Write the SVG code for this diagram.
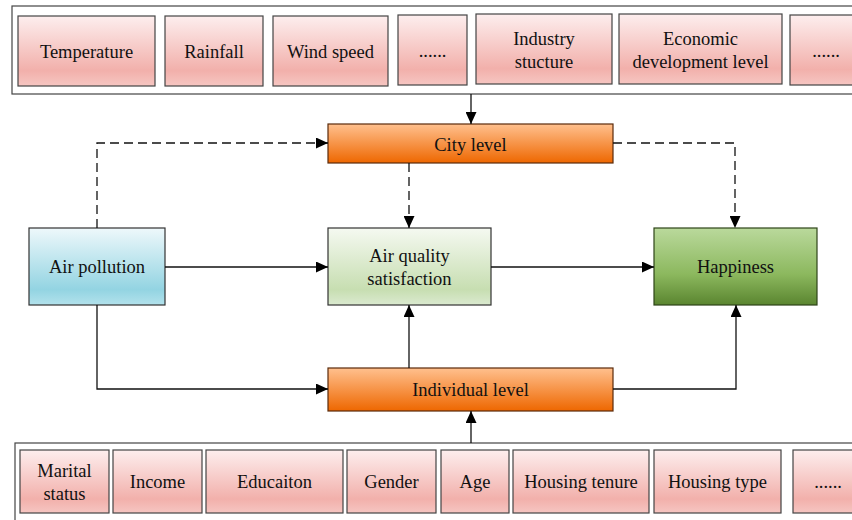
<svg xmlns="http://www.w3.org/2000/svg" width="852" height="520" viewBox="0 0 852 520">
<defs>
<linearGradient id="gPink" x1="0" y1="0" x2="0" y2="1">
<stop offset="0" stop-color="#fdeeee"/><stop offset="0.78" stop-color="#f2b0ab"/><stop offset="1" stop-color="#f6c6c2"/>
</linearGradient>
<linearGradient id="gOrange" x1="0" y1="0" x2="0" y2="1">
<stop offset="0" stop-color="#ffc08e"/><stop offset="1" stop-color="#ee6700"/>
</linearGradient>
<linearGradient id="gBlue" x1="0" y1="0" x2="0" y2="1">
<stop offset="0" stop-color="#eef8fb"/><stop offset="0.8" stop-color="#93d4e2"/><stop offset="1" stop-color="#b3e2ec"/>
</linearGradient>
<linearGradient id="gLGreen" x1="0" y1="0" x2="0" y2="1">
<stop offset="0" stop-color="#f5f9f1"/><stop offset="0.8" stop-color="#c7deb1"/><stop offset="1" stop-color="#dbead0"/>
</linearGradient>
<linearGradient id="gDGreen" x1="0" y1="0" x2="0" y2="1">
<stop offset="0" stop-color="#bad99c"/><stop offset="0.6" stop-color="#8cb85e"/><stop offset="1" stop-color="#5a8530"/>
</linearGradient>
<marker id="ah" markerUnits="userSpaceOnUse" markerWidth="13" markerHeight="11" refX="12" refY="5.5" orient="auto">
<path d="M0,0 L12,5.5 L0,11 z" fill="#000"/>
</marker>
<style>
.frame{fill:#fff;stroke:#444;stroke-width:1.2}
.pink{fill:url(#gPink);stroke:#444;stroke-width:1.2}
.orange{fill:url(#gOrange);stroke:#5a2a0a;stroke-width:1.2}
.blue{fill:url(#gBlue);stroke:#333;stroke-width:1.2}
.lgreen{fill:url(#gLGreen);stroke:#333;stroke-width:1.2}
.dgreen{fill:url(#gDGreen);stroke:#2e4418;stroke-width:1.2}
text{font-size:18.5px;fill:#111;text-anchor:middle}
.ln{fill:none;stroke:#111;stroke-width:1.3}
.dash{stroke-dasharray:9 5}
</style>
</defs>
<g font-family="Liberation Serif, DejaVu Serif, serif">
<g id="city-factors">
<rect class="frame" x="12" y="6" width="850" height="88"/>
<g id="temperature"><rect class="pink" x="18" y="16" width="137" height="70"/><text x="86.5" y="58">Temperature</text></g>
<g id="rainfall"><rect class="pink" x="165" y="16" width="98" height="70"/><text x="214" y="58">Rainfall</text></g>
<g id="windspeed"><rect class="pink" x="273" y="16" width="115" height="70"/><text x="330.5" y="58">Wind speed</text></g>
<g id="dots1"><rect class="pink" x="398" y="15" width="69" height="70"/><text x="432.5" y="57">......</text></g>
<g id="industry"><rect class="pink" x="476" y="14" width="136" height="70"/><text x="544" y="45">Industry</text><text x="544" y="68">stucture</text></g>
<g id="economic"><rect class="pink" x="619" y="14" width="163" height="70"/><text x="700.5" y="45">Economic</text><text x="700.5" y="68">development level</text></g>
<g id="dots2"><rect class="pink" x="790" y="15" width="70" height="70"/><text x="826" y="57">......</text></g>
</g>

<g id="individual-factors">
<rect class="frame" x="15" y="443" width="850" height="90"/>
<g id="marital"><rect class="pink" x="20" y="450" width="89" height="63"/><text x="64.5" y="477">Marital</text><text x="64.5" y="500">status</text></g>
<g id="income"><rect class="pink" x="113" y="450" width="89" height="63"/><text x="157.5" y="488">Income</text></g>
<g id="education"><rect class="pink" x="206" y="450" width="137" height="63"/><text x="274.5" y="488">Educaiton</text></g>
<g id="gender"><rect class="pink" x="347" y="450" width="89" height="63"/><text x="391.5" y="488">Gender</text></g>
<g id="age"><rect class="pink" x="441" y="450" width="68" height="63"/><text x="475" y="488">Age</text></g>
<g id="tenure"><rect class="pink" x="513" y="450" width="136" height="63"/><text x="581" y="488">Housing tenure</text></g>
<g id="htype"><rect class="pink" x="654" y="450" width="127" height="63"/><text x="717.5" y="488">Housing type</text></g>
<g id="dots3"><rect class="pink" x="793" y="450" width="70" height="63"/><text x="828" y="488">......</text></g>
</g>

<g id="city-level"><rect class="orange" x="328" y="124" width="285" height="39"/><text x="470.5" y="151">City level</text></g>
<g id="individual-level"><rect class="orange" x="328" y="368" width="285" height="43"/><text x="470.5" y="396">Individual level</text></g>
<g id="air-pollution"><rect class="blue" x="29" y="228" width="136" height="77"/><text x="97" y="273">Air pollution</text></g>
<g id="air-quality"><rect class="lgreen" x="328" y="228" width="163" height="77"/><text x="409.5" y="262">Air quality</text><text x="409.5" y="285">satisfaction</text></g>
<g id="happiness"><rect class="dgreen" x="654" y="228" width="163" height="77"/><text x="735.5" y="273">Happiness</text></g>
</g>
<g id="connectors">
<path class="ln" d="M471,94 V124" marker-end="url(#ah)"/>
<path class="ln" d="M471,443 V411" marker-end="url(#ah)"/>
<path class="ln dash" d="M97,228 V143 H328" marker-end="url(#ah)"/>
<path class="ln dash" d="M409,163 V228" marker-end="url(#ah)"/>
<path class="ln dash" d="M613,143 H735 V228" marker-end="url(#ah)"/>
<path class="ln" d="M165,267 H328" marker-end="url(#ah)"/>
<path class="ln" d="M491,267 H654" marker-end="url(#ah)"/>
<path class="ln" d="M97,305 V389 H328" marker-end="url(#ah)"/>
<path class="ln" d="M409,368 V305" marker-end="url(#ah)"/>
<path class="ln" d="M613,389 H736 V305" marker-end="url(#ah)"/>
</g>
</svg>
